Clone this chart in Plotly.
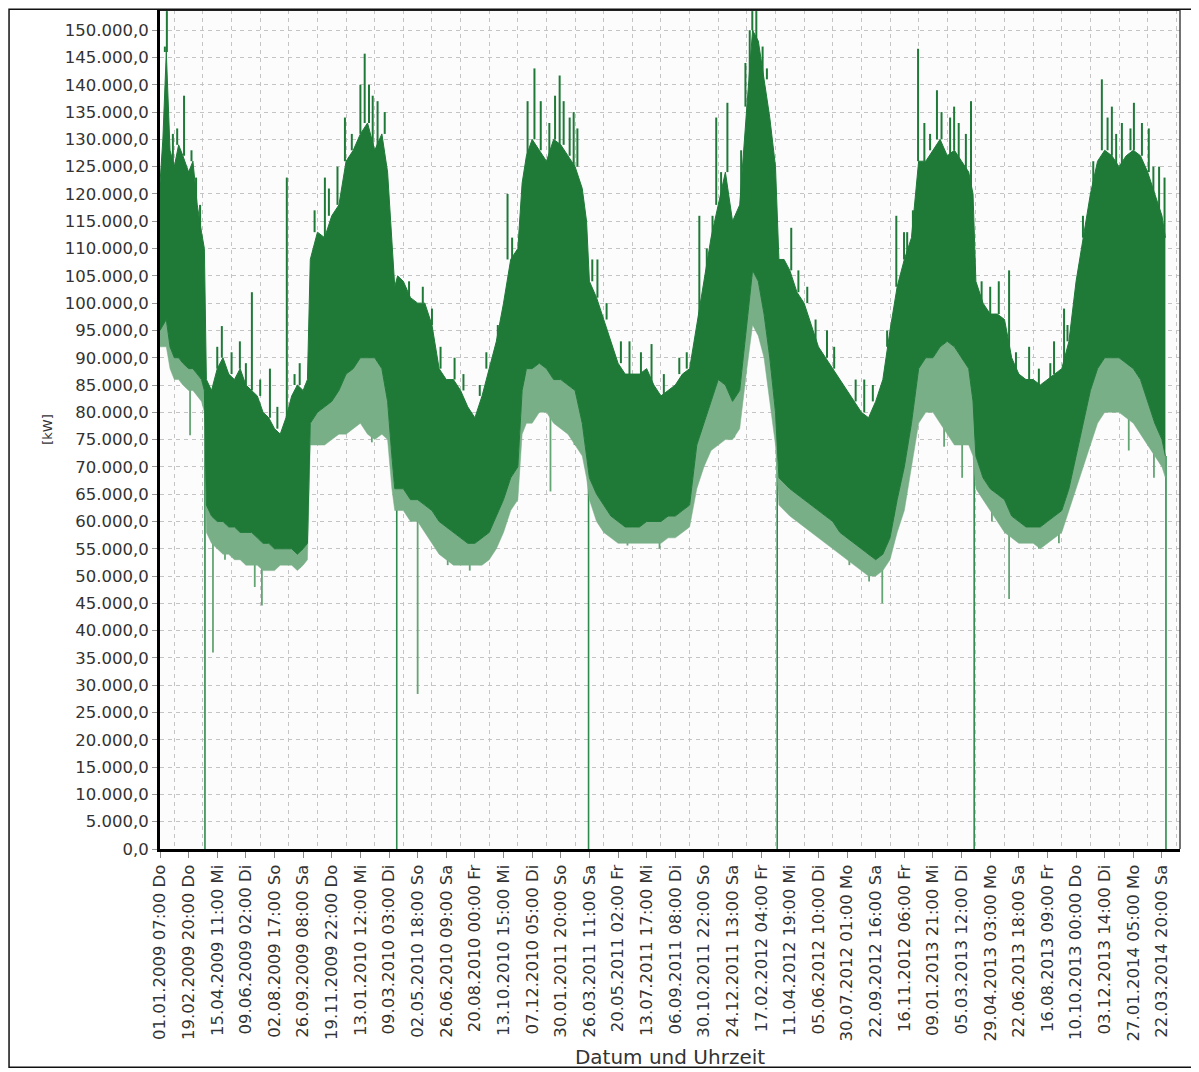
import plotly.graph_objects as go

# ---------------- data ----------------
tick_labels = [
    "01.01.2009 07:00 Do", "19.02.2009 20:00 Do", "15.04.2009 11:00 Mi", "09.06.2009 02:00 Di",
    "02.08.2009 17:00 So", "26.09.2009 08:00 Sa", "19.11.2009 22:00 Do", "13.01.2010 12:00 Mi",
    "09.03.2010 03:00 Di", "02.05.2010 18:00 So", "26.06.2010 09:00 Sa", "20.08.2010 00:00 Fr",
    "13.10.2010 15:00 Mi", "07.12.2010 05:00 Di", "30.01.2011 20:00 So", "26.03.2011 11:00 Sa",
    "20.05.2011 02:00 Fr", "13.07.2011 17:00 Mi", "06.09.2011 08:00 Di", "30.10.2011 22:00 So",
    "24.12.2011 13:00 Sa", "17.02.2012 04:00 Fr", "11.04.2012 19:00 Mi", "05.06.2012 10:00 Di",
    "30.07.2012 01:00 Mo", "22.09.2012 16:00 Sa", "16.11.2012 06:00 Fr", "09.01.2013 21:00 Mi",
    "05.03.2013 12:00 Di", "29.04.2013 03:00 Mo", "22.06.2013 18:00 Sa", "16.08.2013 09:00 Fr",
    "10.10.2013 00:00 Do", "03.12.2013 14:00 Di", "27.01.2014 05:00 Mo", "22.03.2014 20:00 Sa",
]
tick_pos = list(range(len(tick_labels)))           # position index of each tick label

y_ticks = [i * 5000 for i in range(31)]             # 0 ... 150.000 kW

# envelope of the load band, position in tick-label units
band_pos = [
    0.00, 0.10, 0.22, 0.35, 0.50, 0.65, 0.80, 1.00, 1.15, 1.30, 1.45, 1.55,
    1.62, 1.80, 2.00, 2.20, 2.40, 2.60, 2.80, 3.00, 3.20, 3.40, 3.60, 3.80, 4.00, 4.20, 4.40, 4.60, 4.80, 5.00, 5.15,
    5.25, 5.50, 5.75, 6.00, 6.25, 6.50, 6.75, 7.00, 7.25, 7.50, 7.75, 7.95, 8.10, 8.20,
    8.30, 8.50, 8.75, 9.00, 9.25, 9.50, 9.75, 10.00, 10.25, 10.50, 10.75, 11.00, 11.25, 11.50, 11.75, 12.00, 12.25, 12.50,
    12.65, 12.80, 13.00, 13.25, 13.50, 13.75, 14.00, 14.25, 14.50, 14.75, 14.90,
    15.00, 15.25, 15.50, 15.75, 16.00, 16.25, 16.50, 16.75, 17.00, 17.25, 17.50, 17.75, 18.00, 18.25, 18.50,
    18.75, 19.00, 19.25, 19.50, 19.75, 20.00, 20.25, 20.50, 20.70, 20.90, 21.10, 21.30, 21.50,
    21.62, 21.80, 22.00, 22.25, 22.50, 22.75, 23.00, 23.25, 23.50, 23.75, 24.00, 24.25, 24.50, 24.75, 25.00, 25.25, 25.50,
    25.75, 26.00, 26.25, 26.50, 26.75, 27.00, 27.25, 27.50, 27.75, 28.00, 28.25, 28.40,
    28.50, 28.75, 29.00, 29.25, 29.50, 29.75, 30.00, 30.25, 30.50, 30.75, 31.00, 31.25, 31.50, 31.75,
    32.00, 32.25, 32.50, 32.75, 33.00, 33.25, 33.50, 33.75, 34.00, 34.25, 34.50, 34.75, 35.00, 35.12,
]
# top of the dense band (kW)
band_upper = [
    122000, 130000, 146000, 128000, 125000, 129000, 127000, 124000, 126000, 118000, 113000, 110000,
    86000, 84000, 88000, 90000, 87000, 86000, 88000, 85000, 84000, 83000, 80000, 79000, 77000, 76000, 79000, 83000, 85000, 84000, 86000,
    108000, 113000, 112000, 116000, 118000, 126000, 128000, 131000, 133000, 128000, 131000, 124000, 110000, 103000,
    105000, 104000, 101000, 100000, 100000, 96000, 88000, 86000, 86000, 84000, 81000, 79000, 83000, 88000, 93000, 100000, 108000, 110000,
    122000, 127000, 130000, 128000, 126000, 130000, 129000, 127000, 125000, 121000, 115000,
    104000, 101000, 97000, 93000, 89000, 87000, 87000, 87000, 88000, 85000, 83000, 84000, 85000, 87000, 88000,
    96000, 104000, 112000, 118000, 124000, 115000, 118000, 136000, 150000, 148000, 141000, 134000, 125000,
    108000, 108000, 106000, 102000, 100000, 96000, 92000, 90000, 88000, 86000, 84000, 82000, 80000, 79000, 82000, 86000, 95000,
    103000, 108000, 112000, 126000, 126000, 128000, 130000, 127000, 128000, 126000, 124000, 120000,
    104000, 100000, 98000, 98000, 97000, 90000, 87000, 86000, 86000, 85000, 86000, 87000, 88000, 93000,
    104000, 112000, 120000, 126000, 128000, 127000, 125000, 127000, 128000, 127000, 124000, 120000, 116000, 112000,
]
# bottom of the dense band (kW)
band_lower = [
    95000, 96000, 97000, 92000, 90000, 90000, 89000, 88000, 88000, 87000, 86000, 84000,
    63000, 61000, 60000, 60000, 59000, 59000, 58000, 58000, 58000, 57000, 56000, 56000, 55000, 55000, 55000, 55000, 54000, 55000, 56000,
    78000, 80000, 81000, 82000, 84000, 87000, 88000, 90000, 90000, 90000, 88000, 82000, 72000, 66000,
    66000, 66000, 64000, 64000, 63000, 62000, 60000, 59000, 58000, 57000, 56000, 56000, 57000, 58000, 61000, 64000, 68000, 70000,
    84000, 88000, 88000, 89000, 88000, 86000, 86000, 85000, 84000, 78000, 72000,
    68000, 65000, 63000, 61000, 60000, 59000, 59000, 59000, 60000, 60000, 60000, 61000, 61000, 62000, 63000,
    74000, 78000, 82000, 86000, 85000, 82000, 84000, 96000, 106000, 104000, 98000, 90000, 80000,
    68000, 67000, 66000, 65000, 64000, 63000, 62000, 61000, 60000, 58000, 57000, 56000, 55000, 54000, 53000, 54000, 57000,
    64000, 70000, 78000, 88000, 90000, 90000, 92000, 93000, 92000, 90000, 88000, 82000,
    72000, 68000, 66000, 65000, 64000, 61000, 60000, 59000, 59000, 59000, 60000, 61000, 62000, 66000,
    72000, 78000, 84000, 88000, 90000, 90000, 90000, 89000, 88000, 86000, 82000, 78000, 75000, 72000,
]
# bottom of the lighter weekend fringe below the band (kW)
fringe_lower = [
    92000, 92000, 92000, 88000, 86000, 86000, 85000, 84000, 84000, 83000, 82000, 80000,
    58000, 56000, 55000, 54000, 54000, 53000, 53000, 52000, 52000, 52000, 51000, 51000, 51000, 52000, 52000, 52000, 51000, 52000, 53000,
    74000, 74000, 74000, 75000, 76000, 76000, 77000, 78000, 76000, 75000, 76000, 75000, 66000, 62000,
    62000, 62000, 60000, 60000, 58000, 56000, 54000, 53000, 52000, 52000, 52000, 52000, 52000, 53000, 55000, 58000, 62000, 64000,
    76000, 78000, 78000, 80000, 80000, 78000, 77000, 76000, 74000, 72000, 68000,
    64000, 60000, 58000, 57000, 56000, 56000, 56000, 56000, 56000, 56000, 56000, 57000, 57000, 58000, 59000,
    66000, 70000, 73000, 74000, 75000, 75000, 77000, 88000, 96000, 94000, 90000, 82000, 74000,
    63000, 62000, 61000, 60000, 59000, 58000, 57000, 56000, 55000, 54000, 53000, 52000, 51000, 50000, 50000, 51000, 53000,
    58000, 62000, 70000, 78000, 80000, 80000, 78000, 76000, 74000, 74000, 74000, 72000,
    66000, 64000, 62000, 60000, 58000, 57000, 56000, 56000, 56000, 55000, 56000, 57000, 58000, 62000,
    66000, 70000, 74000, 78000, 80000, 80000, 80000, 79000, 78000, 76000, 74000, 72000, 70000, 68000,
]

# isolated upward peaks above the band
peak_pos = [0.17, 0.24, 0.45, 0.60, 0.84, 1.10, 1.26, 1.40, 2.00, 2.16, 2.50, 2.79, 3.00, 3.21,
            3.50, 3.84, 4.10, 4.43, 4.70, 4.88, 5.40, 5.76, 5.90, 6.20, 6.46, 6.70, 7.00, 7.15,
            7.30, 7.43, 7.60, 7.85, 8.70, 9.18, 9.50, 9.80, 10.29, 10.60, 11.17, 11.40, 11.80,
            12.14, 12.30, 12.84, 13.08, 13.30, 13.60, 13.80, 13.96, 14.10, 14.31, 14.45, 14.58,
            15.10, 15.28, 15.60, 16.10, 16.40, 16.80, 17.17, 17.60, 18.14, 18.40, 18.84, 19.10,
            19.30, 19.43, 19.60, 19.82, 20.30, 20.45, 20.60, 20.69, 20.83, 21.05, 21.20, 22.05,
            22.30, 22.61, 22.90, 23.30, 23.55, 24.30, 24.60, 24.90, 25.40, 25.72, 25.99, 26.10,
            26.30, 26.48, 26.70, 26.90, 27.14, 27.30, 27.60, 27.74, 27.90, 28.15, 28.33, 28.70,
            29.00, 29.30, 29.66, 29.90, 30.36, 30.70, 31.10, 31.23, 31.58, 31.70, 32.24, 32.60,
            32.90, 33.10, 33.25, 33.40, 33.60, 33.90, 34.02, 34.30, 34.54, 34.70, 34.90, 35.09]
peak_val = [147000, 153500, 131000, 132000, 138000, 128000, 123000, 118000, 92000, 95800, 91000,
            93000, 89000, 102000, 86000, 88000, 81000, 123000, 87000, 89000, 117000, 123000,
            121000, 125000, 134000, 131000, 140000, 145700, 140000, 138000, 137000, 135000,
            104000, 103000, 99000, 92000, 90000, 87000, 85000, 91000, 96000, 120000, 112000,
            137000, 143000, 137000, 133000, 138000, 141700, 137000, 134000, 135000, 132000,
            108000, 108000, 100000, 93000, 93000, 91000, 92500, 87000, 90000, 91000, 116000,
            110000, 116000, 134000, 124000, 136700, 128000, 144000, 141000, 153500, 153500,
            147000, 143000, 113800, 106000, 103000, 97000, 95000, 92000, 86000, 86000, 85000,
            92000, 116000, 113000, 113000, 117000, 146600, 133000, 131000, 139000, 135000,
            134000, 136000, 133000, 131000, 137000, 104000, 103000, 104000, 106000, 91000,
            92000, 88000, 89000, 93000, 99000, 96000, 116000, 126000, 141000, 134000, 136000,
            131000, 133000, 132000, 136700, 133000, 132000, 125000, 125000, 123000]

# deeper downward dips
dip_pos = [0.38, 1.05, 1.85, 2.27, 3.31, 3.56, 4.01, 4.88, 5.58, 7.40, 9.00, 10.05, 10.82, 11.17,
           12.74, 13.64, 14.48, 16.33, 17.45, 18.91, 20.06, 24.08, 24.77, 25.23, 25.65, 27.39,
           28.02, 29.06, 29.66, 30.70, 31.40, 32.62, 33.84, 34.72]
dip_val = [91700, 75800, 36000, 53000, 48000, 44600, 52000, 51500, 74000, 74500, 28400, 52000,
           51000, 52000, 78000, 65500, 74000, 55600, 55000, 70500, 75400, 52000, 49000, 45000,
           60000, 73700, 68000, 60000, 45800, 55000, 56000, 78000, 73000, 68000]

# drops to zero
zero_pos = [1.57, 8.27, 14.97, 21.56, 28.44, 35.14]
zero_val = [0, 0, 0, 0, 0, 0]

# ---------------- helpers ----------------
def nearest(pos_list, p):
    return min(range(len(pos_list)), key=lambda i: abs(pos_list[i] - p))

def segments(positions, values, base_list):
    xs, ys = [], []
    for p, v in zip(positions, values):
        b = base_list[nearest(band_pos, p)]
        xs += [p, p, None]
        ys += [b, v, None]
    return xs, ys

DARK = "#1f7a38"
LIGHT = "#64a574"
FRINGE = "#78af87"
MID = "#2e8a4c"

fig = go.Figure()

zx, zy = segments(zero_pos, zero_val, band_lower)
fig.add_trace(go.Scatter(x=zx, y=zy, mode="lines", line=dict(color=MID, width=1.6),
                         hoverinfo="skip", showlegend=False))

dx, dy = segments(dip_pos, dip_val, band_lower)
fig.add_trace(go.Scatter(x=dx, y=dy, mode="lines", line=dict(color=LIGHT, width=1.8),
                         hoverinfo="skip", showlegend=False))

# light fringe
fig.add_trace(go.Scatter(x=band_pos, y=fringe_lower, mode="lines", line=dict(color=FRINGE, width=0.5),
                         hoverinfo="skip", showlegend=False))
fig.add_trace(go.Scatter(x=band_pos, y=band_lower, mode="lines", fill="tonexty", fillcolor=FRINGE,
                         line=dict(color=DARK, width=1), hoverinfo="skip", showlegend=False))
# dense band
fig.add_trace(go.Scatter(x=band_pos, y=band_upper, mode="lines", fill="tonexty",
                         fillcolor=DARK, line=dict(color=DARK, width=1),
                         hoverinfo="skip", showlegend=False))

px_, py_ = segments(peak_pos, peak_val, band_upper)
fig.add_trace(go.Scatter(x=px_, y=py_, mode="lines", line=dict(color=DARK, width=2),
                         hoverinfo="skip", showlegend=False))

FONT = "DejaVu Sans"
GRID = "#c4c4c4"

# the page adds an 8 px body margin: figure is sized so the plot area lands at
# x 160..1180, y 10..849 of the screenshot
fig.update_layout(
    width=1191, height=1064, autosize=False,
    margin=dict(l=152, r=19, t=2, b=223),
    paper_bgcolor="#ffffff", plot_bgcolor="#fdfcfd",
    separators=",.",
    font=dict(family=FONT, color="#333333"),
    showlegend=False,
)

fig.update_xaxes(
    range=[0, 35.63],
    tickmode="array", tickvals=tick_pos, ticktext=tick_labels,
    tickangle=-90, tickfont=dict(size=16.5, family=FONT, color="#333333"),
    ticks="outside", ticklen=6, tickcolor="#888888",
    showgrid=False, zeroline=False,
    showline=True, linecolor="#000000", linewidth=3,
    minor=dict(tickmode="linear", tick0=0.5, dtick=1, showgrid=True,
               gridcolor=GRID, griddash="4px,4px", gridwidth=1, ticks=""),
    title=dict(text="Datum und Uhrzeit", font=dict(size=20, family=FONT, color="#333333"),
               standoff=10),
)
fig.update_yaxes(
    range=[0, 153700],
    tickmode="array", tickvals=y_ticks, tickformat=",.1f",
    tickfont=dict(size=16.5, family=FONT, color="#333333"),
    ticks="outside", ticklen=5, tickcolor="#999999",
    showgrid=True, gridcolor=GRID, griddash="4px,4px", gridwidth=1,
    zeroline=False,
    showline=True, linecolor="#000000", linewidth=3,
    title=dict(text="[kW]", font=dict(size=13, family=FONT, color="#333333"), standoff=10),
)

# thin top / right frame of the plot area and outer picture border
fig.add_shape(type="line", xref="paper", yref="paper", x0=0, x1=1, y0=1, y1=1,
              line=dict(color="#222222", width=2))
fig.add_shape(type="line", xref="paper", yref="paper", x0=1, x1=1, y0=0, y1=1,
              line=dict(color="#444444", width=1.5))
fig.add_shape(type="rect", xref="paper", yref="paper", x0=-0.1480, x1=1.0167, y0=-0.2600, y1=1.0010,
              line=dict(color="#111111", width=1.5), fillcolor="rgba(0,0,0,0)")

fig.write_html("out.html")
